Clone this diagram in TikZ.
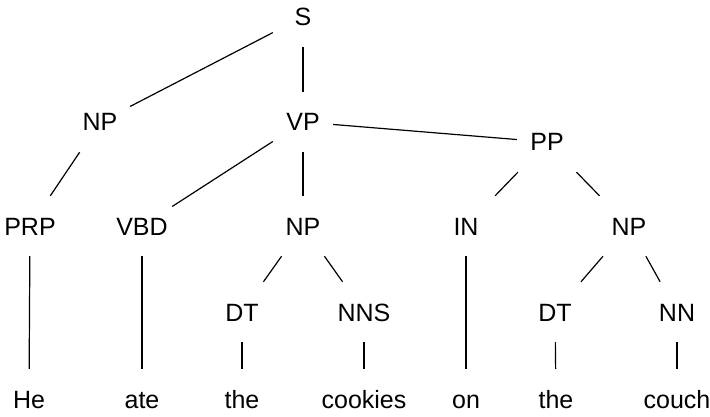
\documentclass[tikz,border=0pt]{standalone}
\usepackage{fontspec}
\setmainfont{Liberation Sans}

\begin{document}
\begin{tikzpicture}[x=1pt, y=-1pt,
    tag/.style={rectangle, inner sep=0pt, minimum width=60pt, minimum height=60pt,
      text height=18pt, text depth=0pt, font=\fontsize{25}{30}\selectfont},
    branch/.style={line width=1.2pt}]
%      \draw [help lines] (0,0) grid (710,417);
      \useasboundingbox (0,0) rectangle (710,417);

      % phrase level
      \node [tag] (s) at (303,17) {S};
      \node [tag] (np1) at (100,122) {NP};
      \node [tag] (vp) at (303,122) {VP};
      \node [tag] (pp) at (547,142) {PP};

      % part of speech tags
      \node [tag] (prp) at (30,226) {PRP};
      \node [tag] (vbd) at (142,226) {VBD};
      \node [tag] (np2) at (303,226) {NP};
      \node [tag] (in) at (466,226) {IN};
      \node [tag] (np3) at (629,226) {NP};

      \node [tag] (dt1) at (242,312) {DT};
      \node [tag] (nns) at (364,312) {NNS};
      \node [tag] (dt2) at (555,312) {DT};
      \node [tag] (nn) at (677,312) {NN};

      % words
      \node [tag] (he) at (29,399) {He};
      \node [tag] (ate) at (142,399) {ate};
      \node [tag] (the1) at (242,399) {the};
      \node [tag] (cookies) at (364,399) {cookies};
      \node [tag] (on) at (466,399) {on};
      \node [tag] (the2) at (556,399) {the};
      \node [tag] (couch) at (677,399) {couch};

      \draw [branch] (s) -- (np1);
      \draw [branch] (s) -- (vp);
      \draw [branch] (np1) -- (prp);
      \draw [branch] (vp) -- (vbd);
      \draw [branch] (vp) -- (np2);
      \draw [branch] (vp) -- (pp);
      \draw [branch] (pp) -- (in);
      \draw [branch] (pp) -- (np3);
      \draw [branch] (np2) -- (dt1);
      \draw [branch] (np2) -- (nns);
      \draw [branch] (np3) -- (dt2);
      \draw [branch] (np3) -- (nn);

      \draw [branch] (prp) -- (he);
      \draw [branch] (vbd) -- (ate);
      \draw [branch] (dt1) -- (the1);
      \draw [branch] (nns) -- (cookies);
      \draw [branch] (in) -- (on);
      \draw [branch] (dt2) -- (the2);
      \draw [branch] (nn) -- (couch);

    \end{tikzpicture}
\end{document}
